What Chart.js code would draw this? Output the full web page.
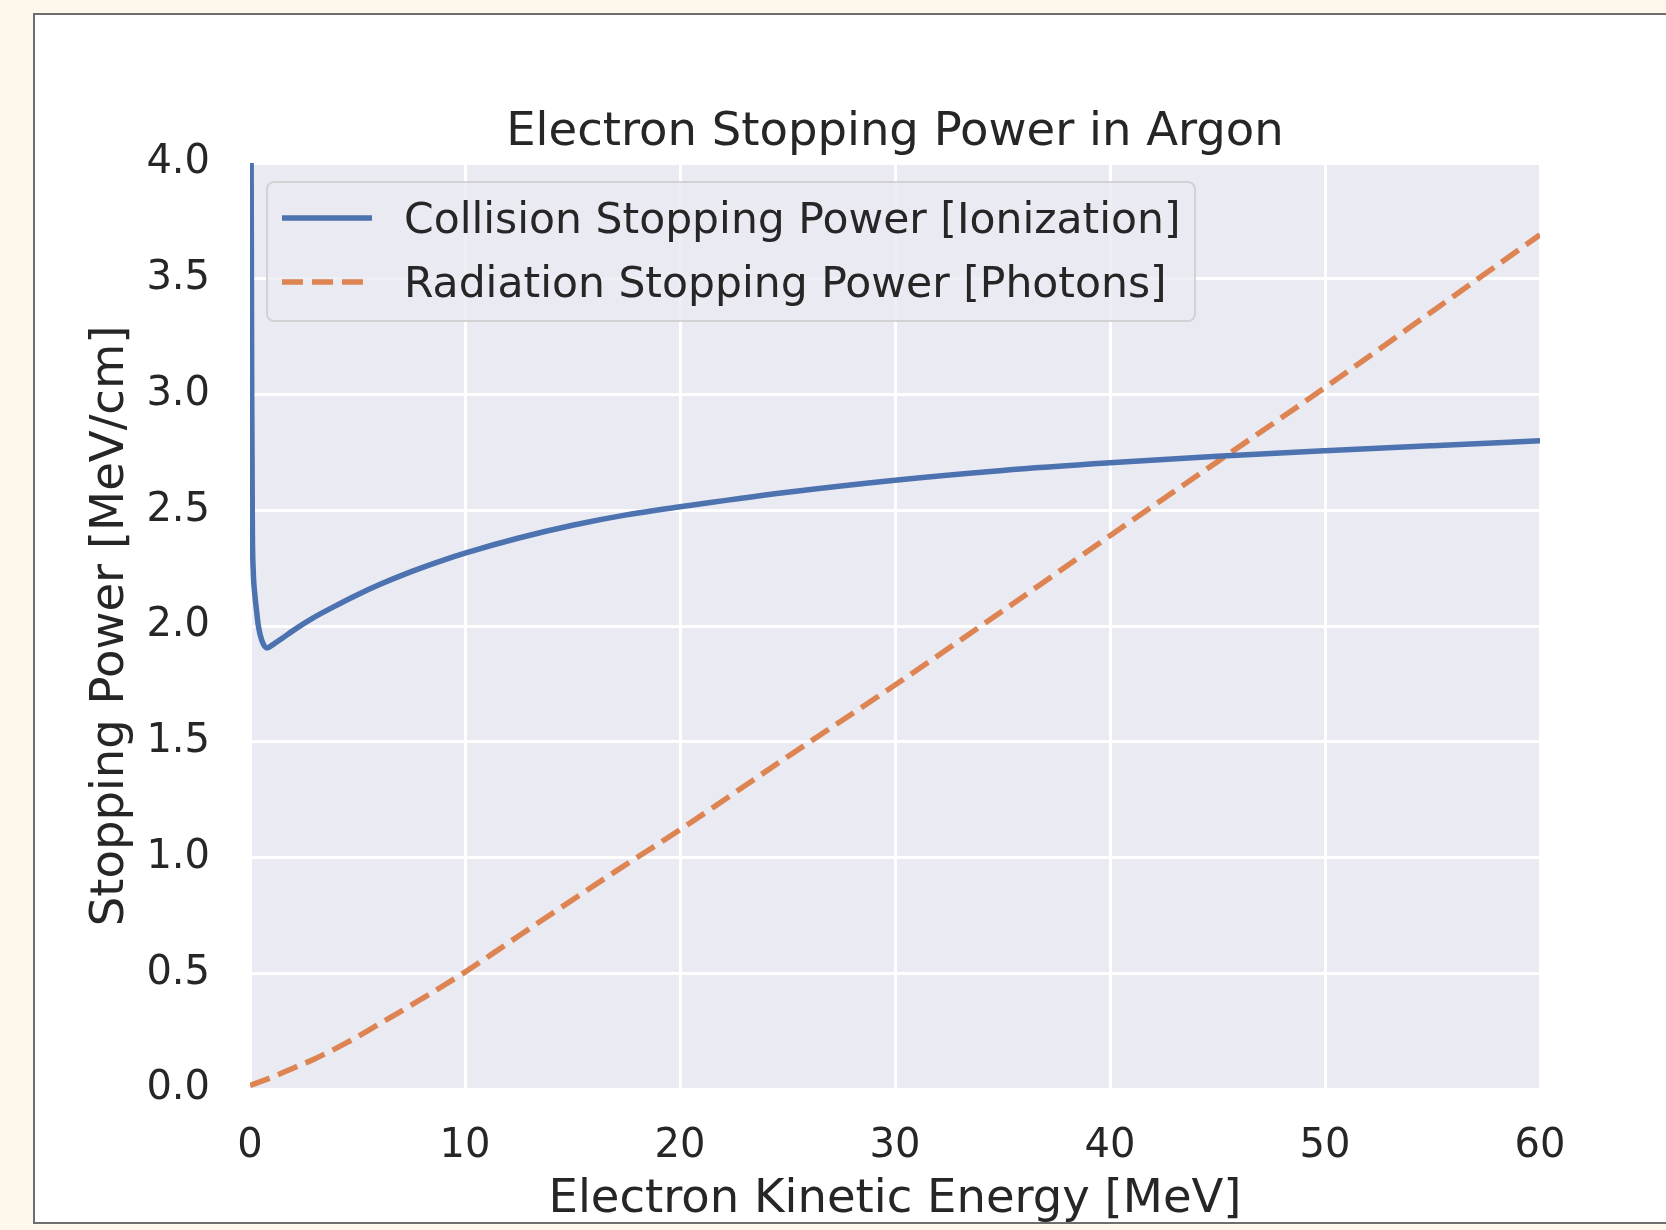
<!DOCTYPE html>
<html>
<head>
<meta charset="utf-8">
<script src="https://cdn.jsdelivr.net/npm/chart.js@4.4.0/dist/chart.umd.min.js"></script>
<style>
  body { margin: 0; background: #fdf8eb; }
  #wrap { position: relative; width: 1666px; height: 1230px; overflow: hidden; }
  #panel {
    position: absolute; left: 33px; top: 13px; width: 1700px; height: 1207px;
    background: #ffffff; border: 2px solid #6e6e6e;
  }
  #StoppingChart { position: absolute; left: 0; top: 0; }
</style>
</head>
<body>
<div id="wrap">
  <div id="panel"></div>
  <canvas id="StoppingChart" width="1666" height="1230"></canvas>
</div>
<script>
// collision (ionization) stopping power
const collisionEnergy = [0.02, 0.05, 0.08, 0.11, 0.15, 0.22, 0.3, 0.39, 0.54, 0.78, 1.1, 1.5, 2, 2.9, 4, 5, 6, 7.5, 9, 10, 12.5, 15, 17.5, 20, 25, 30, 35, 40, 45, 50, 55, 60];
const collisionPower = [6.0, 4.1, 3.0, 2.42, 2.24, 2.14, 2.07, 2.0, 1.94, 1.905, 1.922, 1.947, 1.98, 2.033, 2.088, 2.135, 2.178, 2.235, 2.285, 2.315, 2.38, 2.435, 2.48, 2.515, 2.578, 2.63, 2.672, 2.705, 2.733, 2.757, 2.779, 2.80];

// radiation (photons) stopping power
const radiationEnergy = [0, 1, 2, 3, 4.5, 6, 8, 10, 12, 14, 17, 20, 25, 30, 35, 40, 45, 50, 55, 60];
const radiationPower = [0.015, 0.05, 0.09, 0.13, 0.20, 0.28, 0.39, 0.505, 0.63, 0.755, 0.94, 1.12, 1.435, 1.745, 2.065, 2.39, 2.71, 3.03, 3.36, 3.69];

const seriesLabels = ["Collision Stopping Power [Ionization]", "Radiation Stopping Power [Photons]"];
const seriesColors = ["#4c72b0", "#dd8452"];

const FONT = "DejaVu Sans";
const TEXT = "#262626";

function toPoints(xs, ys) {
  return xs.map((x, i) => ({ x: x, y: ys[i] }));
}

// seaborn-like grey plot background
const plotBackground = {
  id: "plotBackground",
  beforeDraw(chart) {
    const { ctx, chartArea } = chart;
    ctx.save();
    ctx.fillStyle = "#eaeaf2";
    ctx.fillRect(chartArea.left, chartArea.top, chartArea.right - chartArea.left, chartArea.bottom - chartArea.top);
    ctx.restore();
  }
};

// legend box in the upper left of the plot
const innerLegend = {
  id: "innerLegend",
  afterDatasetsDraw(chart) {
    const { ctx, chartArea } = chart;
    const x = chartArea.left + 17;
    const y = chartArea.top + 19;
    const w = 928;
    const h = 139;

    ctx.save();
    ctx.beginPath();
    ctx.roundRect(x, y, w, h, 7);
    ctx.fillStyle = "rgba(234, 234, 242, 0.8)";
    ctx.fill();
    ctx.lineWidth = 2;
    ctx.strokeStyle = "rgba(204, 204, 204, 0.8)";
    ctx.stroke();

    chart.data.datasets.forEach((ds, i) => {
      const rowY = y + 36 + i * 64;
      ctx.beginPath();
      ctx.lineWidth = ds.borderWidth;
      ctx.strokeStyle = ds.borderColor;
      ctx.setLineDash(ds.borderDash || []);
      ctx.moveTo(x + 15, rowY);
      ctx.lineTo(x + 105, rowY);
      ctx.stroke();
      ctx.setLineDash([]);

      ctx.fillStyle = TEXT;
      ctx.font = "42.5px '" + FONT + "'";
      ctx.textBaseline = "middle";
      ctx.textAlign = "left";
      ctx.fillText(ds.label, x + 137, rowY + 4);
    });
    ctx.restore();
  }
};

const canvas = document.getElementById("StoppingChart");
const ctx = canvas.getContext("2d");

new Chart(ctx, {
  type: "line",
  data: {
    datasets: [
      {
        label: seriesLabels[0],
        data: toPoints(collisionEnergy, collisionPower),
        borderColor: seriesColors[0],
        borderWidth: 5.5,
        pointRadius: 0,
        cubicInterpolationMode: "monotone",
        clip: 0
      },
      {
        label: seriesLabels[1],
        data: toPoints(radiationEnergy, radiationPower),
        borderColor: seriesColors[1],
        borderWidth: 5.5,
        borderDash: [21, 9],
        pointRadius: 0,
        cubicInterpolationMode: "monotone",
        clip: 0
      }
    ]
  },
  options: {
    responsive: false,
    animation: false,
    devicePixelRatio: 1,
    layout: {
      padding: { left: 60, right: 126, top: 70, bottom: 0 }
    },
    plugins: {
      legend: { display: false },
      tooltip: { enabled: false },
      title: {
        display: true,
        text: "Electron Stopping Power in Argon",
        color: TEXT,
        font: { family: FONT, size: 46.5, weight: "normal" },
        padding: { top: 34.6, bottom: 2.6 },
        fullSize: false
      }
    },
    scales: {
      x: {
        type: "linear",
        min: 0,
        max: 60,
        afterFit: (scale) => { scale.height = 141; },
        ticks: {
          stepSize: 10,
          padding: 34,
          color: TEXT,
          font: { family: FONT, size: 40 }
        },
        grid: { color: "#ffffff", lineWidth: 3, drawTicks: false },
        border: { display: false },
        title: {
          display: true,
          text: "Electron Kinetic Energy [MeV]",
          color: TEXT,
          font: { family: FONT, size: 46.5 },
          padding: { top: 0, bottom: 2 }
        }
      },
      y: {
        min: 0,
        max: 4,
        afterFit: (scale) => { scale.width = 190; },
        ticks: {
          stepSize: 0.5,
          padding: 40,
          color: TEXT,
          font: { family: FONT, size: 40 },
          callback: (value) => value.toFixed(1)
        },
        grid: { color: "#ffffff", lineWidth: 3, drawTicks: false },
        border: { display: false },
        title: {
          display: true,
          text: "Stopping Power [MeV/cm]",
          color: TEXT,
          font: { family: FONT, size: 46.5 },
          padding: { top: 22.6, bottom: 0 }
        }
      }
    }
  },
  plugins: [plotBackground, innerLegend]
});
</script>
</body>
</html>
